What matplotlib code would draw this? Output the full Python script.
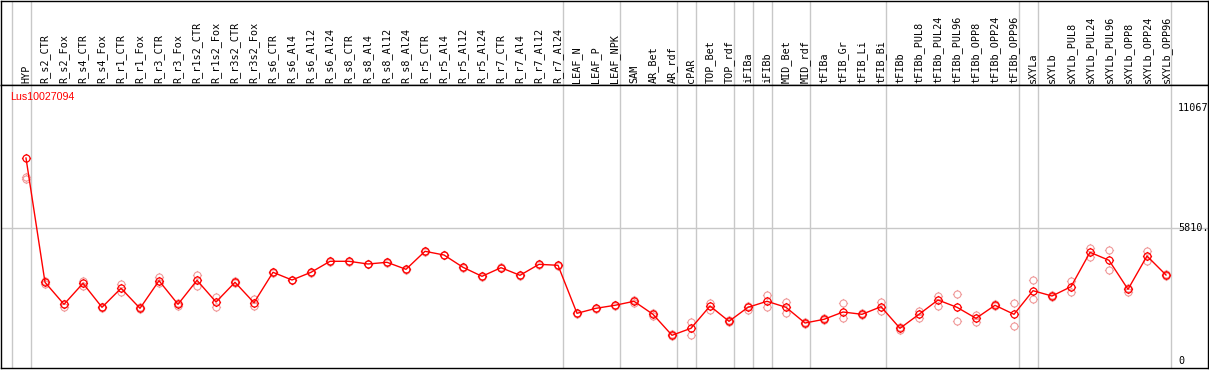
import numpy as np
import matplotlib
matplotlib.use("Agg")
import matplotlib.pyplot as plt
from matplotlib.path import Path

# sample names along the x axis
samples = [
    "HYP", "R_s2_CTR", "R_s2_Fox", "R_s4_CTR", "R_s4_Fox", "R_r1_CTR", "R_r1_Fox",
    "R_r3_CTR", "R_r3_Fox", "R_r1s2_CTR", "R_r1s2_Fox", "R_r3s2_CTR", "R_r3s2_Fox",
    "R_s6_CTR", "R_s6_Al4", "R_s6_Al12", "R_s6_Al24", "R_s8_CTR", "R_s8_Al4",
    "R_s8_Al12", "R_s8_Al24", "R_r5_CTR", "R_r5_Al4", "R_r5_Al12", "R_r5_Al24",
    "R_r7_CTR", "R_r7_Al4", "R_r7_Al12", "R_r7_Al24", "LEAF_N", "LEAF_P", "LEAF_NPK",
    "SAM", "AR_Bet", "AR_rdf", "cPAR", "TOP_Bet", "TOP_rdf", "iFIBa", "iFIBb",
    "MID_Bet", "MID_rdf", "tFIBa", "tFIB_Gr", "tFIB_Li", "tFIB_Bi", "tFIBb",
    "tFIBb_PUL8", "tFIBb_PUL24", "tFIBb_PUL96", "tFIBb_OPP8", "tFIBb_OPP24",
    "tFIBb_OPP96", "sXYLa", "sXYLb", "sXYLb_PUL8", "sXYLb_PUL24", "sXYLb_PUL96",
    "sXYLb_OPP8", "sXYLb_OPP24", "sXYLb_OPP96",
]

# number of samples in each tissue group (separators drawn between groups)
group_sizes = [1, 28, 3, 3, 1, 2, 1, 1, 2, 4, 7, 1, 7]

gene = "Lus10027094"

# mean expression per sample
mean_expr = [
    8891, 3447, 2483, 3403, 2352, 3184, 2308, 3517, 2483, 3535, 2584, 3447, 2554,
    3885, 3548, 3885, 4367, 4367, 4249, 4323, 4016, 4805, 4643, 4104, 3710,
    4087, 3754, 4235, 4192, 2089, 2308, 2440,
    2615, 2045, 1126, 1432, 2409, 1739, 2352, 2615,
    2352, 1664, 1826, 2146, 2045, 2378, 1432,
    2045, 2672, 2352, 1870, 2440, 2045,
    3079, 2847, 3254, 4761, 4411, 3140, 4599, 3767,
]

# individual replicates per sample
replicates = [
    [8059, 7972], [3490, 3360], [2510, 2378], [3504, 3285], [2365, 2340],
    [3359, 3035], [2365, 2277], [3692, 3430], [2562, 2409], [3767, 3298],
    [2790, 2378], [3504, 3395], [2702, 2409],
    [3900, 3870], [3560, 3530], [3900, 3870], [4380, 4350], [4380, 4350],
    [4260, 4235], [4335, 4310], [4030, 4000], [4820, 4790], [4655, 4630],
    [4120, 4090], [3725, 3695], [4100, 4075], [3770, 3740], [4250, 4220],
    [4205, 4180], [2100, 2075], [2320, 2295], [2455, 2425],
    [2672, 2540], [2102, 1971], [1183, 1095], [1708, 1126], [2527, 2234],
    [1796, 1708], [2409, 2234], [2878, 2378], [2584, 2116], [1708, 1621],
    [1883, 1796], [2527, 1883], [2102, 2015], [2584, 2177], [1489, 1358],
    [2190, 1897], [2847, 2409], [2921, 1739], [2015, 1721], [2497, 2409],
    [2554, 1546], [3535, 2729], [2891, 2803], [3504, 3022], [4949, 4568],
    [4849, 3973], [3197, 3022], [4818, 4393], [3811, 3723],
]

axis_marks = [11067, 5810]
axis_labels = ["11067", "5810.", "0"]

# circle marker with four small ticks
circ = Path.unit_circle()
tick_verts = [(0, 1), (0, 1.3), (0, -1), (0, -1.3), (1, 0), (1.3, 0), (-1, 0), (-1.3, 0)]
tick_codes = [Path.MOVETO, Path.LINETO] * 4
ticks = Path(tick_verts, tick_codes)
marker = Path.make_compound_path(circ, ticks)

W, H = 1209, 370
fig = plt.figure(figsize=(W / 100, H / 100), dpi=100)

x = np.arange(len(samples))
xlim = ((1 - 26) / 19, (1208 - 26) / 19)

ax_lab = fig.add_axes([1 / W, (H - 85) / H, 1207 / W, 84.5 / H])
ax = fig.add_axes([1 / W, 2 / H, 1207 / W, 283 / H])

seps = np.cumsum([0] + group_sizes) - 1 + 0.24
for a in (ax_lab, ax):
    a.set_xlim(*xlim)
    a.set_xticks([])
    a.set_yticks([])
    for s in a.spines.values():
        s.set_color("black")
        s.set_linewidth(1.0)
    for sx in seps:
        a.axvline(sx, color="#c8c8c8", lw=1.0, zorder=1)

ax_lab.set_ylim(0, 1)
for xi, name in zip(x, samples):
    ax_lab.text(xi, 0.02, name, rotation=90, ha="center", va="bottom",
                family="DejaVu Sans Mono", fontsize=7.3, color="black")

ax.set_ylim(-307, 12090)
ax.axhline(axis_marks[1], color="#c8c8c8", lw=1.0, zorder=1)

for xi, reps in zip(x, replicates):
    ax.plot([xi] * len(reps), reps, linestyle="none", marker=marker, ms=6.6,
            mfc="none", mec="#f09a9a", mew=0.8, zorder=2)

ax.plot(x, mean_expr, color="#ff0000", lw=1.0, zorder=3)
ax.plot(x, mean_expr, linestyle="none", marker=marker, ms=6.6, mfc="none",
        mec="#ff0000", mew=0.9, zorder=4)

ax.text(9 / 1207, 0.958, gene, transform=ax.transAxes, color="#ff0000",
        family="Liberation Sans", fontsize=7.7, ha="left", va="center")

tx = (1178 - 1) / 1207
for val, lab in zip(axis_marks + [0], axis_labels):
    ax.text(tx, val, lab, transform=ax.get_yaxis_transform(), ha="left",
            va="center", family="DejaVu Sans Mono", fontsize=7.3, color="black")

fig.savefig("out.png", dpi=100)
